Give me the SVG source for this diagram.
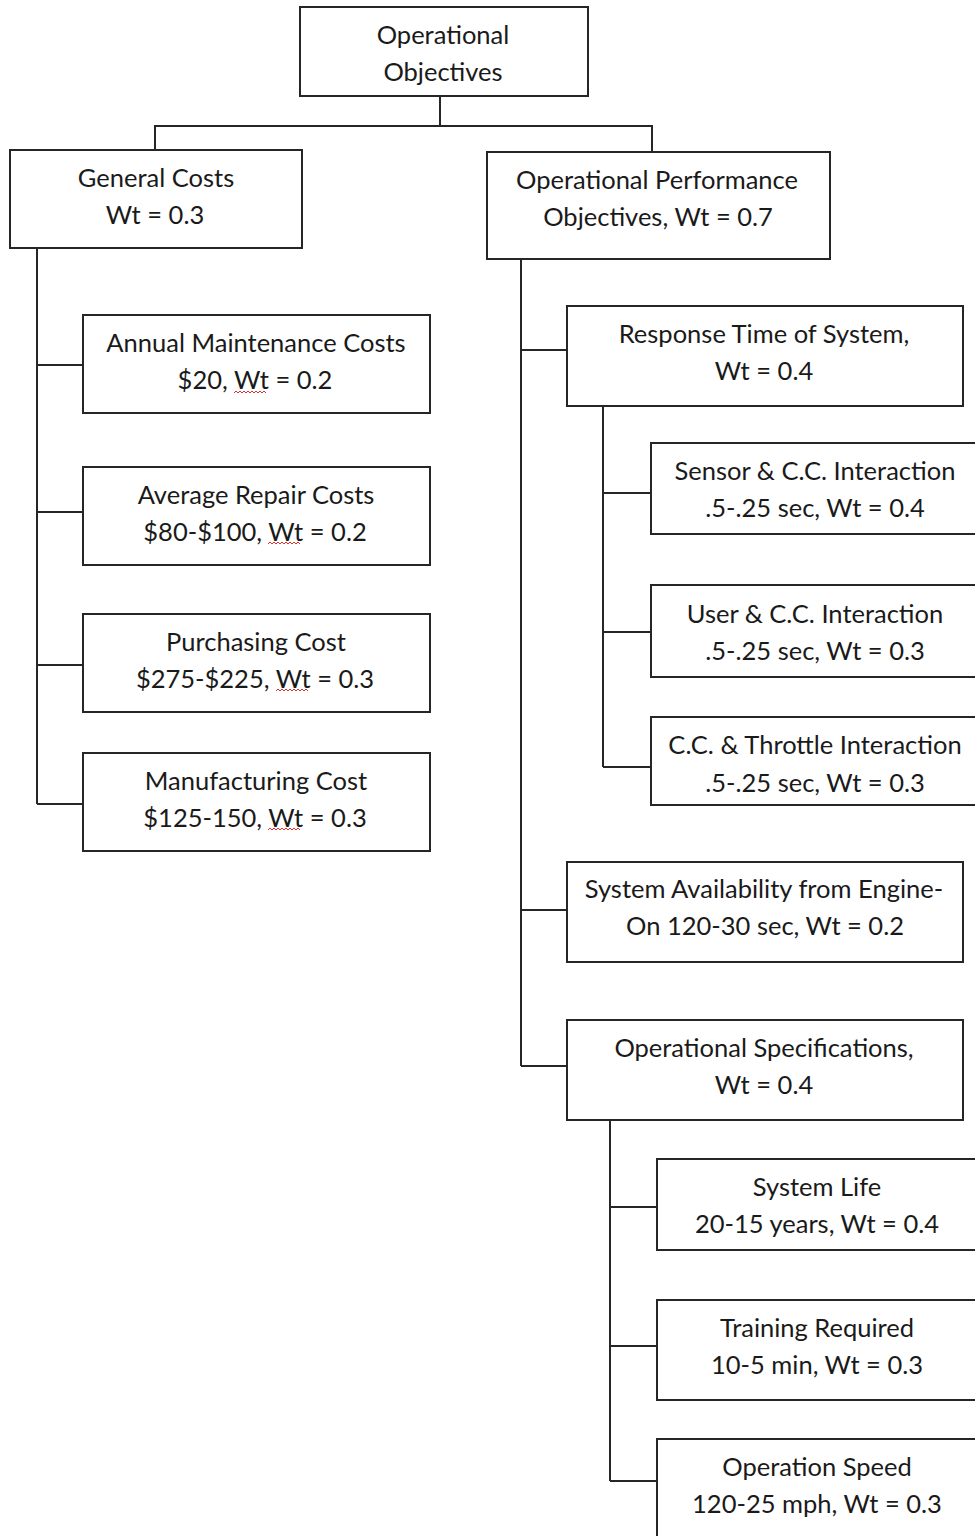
<svg xmlns="http://www.w3.org/2000/svg" width="975" height="1536" viewBox="0 0 975 1536">
  <style>
    .box { fill: #ffffff; stroke: #262626; stroke-width: 2; }
    .wire { fill: none; stroke: #262626; stroke-width: 2; }
    .lbl { font-family: Lato, "Open Sans", sans-serif; font-size: 25.5px; fill: #1a1a1a; text-anchor: middle; dominant-baseline: central; }
    .squig { fill: none; stroke: #e03030; stroke-width: 1; }
  </style>
  <rect width="975" height="1536" fill="#ffffff"/>

  <g id="connectors">
    <!-- root to first level -->
    <polyline class="wire" points="440,96 440,126"/>
    <polyline class="wire" points="155,150 155,126 652,126 652,152"/>
    <!-- general costs spine -->
    <polyline class="wire" points="37,248 37,804"/>
    <polyline class="wire" points="37,365 83,365"/>
    <polyline class="wire" points="37,512 83,512"/>
    <polyline class="wire" points="37,665 83,665"/>
    <polyline class="wire" points="37,804 83,804"/>
    <!-- performance spine -->
    <polyline class="wire" points="521,259 521,1066"/>
    <polyline class="wire" points="521,350 567,350"/>
    <polyline class="wire" points="521,910 567,910"/>
    <polyline class="wire" points="521,1066 567,1066"/>
    <!-- response time spine -->
    <polyline class="wire" points="603,406 603,767"/>
    <polyline class="wire" points="603,493 651,493"/>
    <polyline class="wire" points="603,632 651,632"/>
    <polyline class="wire" points="603,767 651,767"/>
    <!-- specifications spine -->
    <polyline class="wire" points="610,1120 610,1481"/>
    <polyline class="wire" points="610,1207 657,1207"/>
    <polyline class="wire" points="610,1346 657,1346"/>
    <polyline class="wire" points="610,1481 657,1481"/>
  </g>

  <g id="root">
    <rect class="box" x="300" y="7" width="288" height="89"/>
    <text class="lbl" x="443" y="34">Operational</text>
    <text class="lbl" x="443" y="71">Objectives</text>
  </g>

  <g id="general-costs">
    <rect class="box" x="10" y="150" width="292" height="98"/>
    <text class="lbl" x="156" y="177">General Costs</text>
    <text class="lbl" x="155" y="214">Wt = 0.3</text>
  </g>

  <g id="performance">
    <rect class="box" x="487" y="152" width="343" height="107"/>
    <text class="lbl" x="657" y="179">Operational Performance</text>
    <text class="lbl" x="658" y="216">Objectives, Wt = 0.7</text>
  </g>

  <g id="annual-maintenance">
    <rect class="box" x="83" y="315" width="347" height="98"/>
    <text class="lbl" x="256" y="342">Annual Maintenance Costs</text>
    <text class="lbl" x="255" y="379">$20, Wt = 0.2</text>
    <path class="squig" d="M234,393 l2,-2 l2,2 l2,-2 l2,2 l2,-2 l2,2 l2,-2 l2,2 l2,-2 l2,2 l2,-2 l2,2 l2,-2 l2,2 l2,-2 l2,2"/>
  </g>

  <g id="average-repair">
    <rect class="box" x="83" y="467" width="347" height="98"/>
    <text class="lbl" x="256" y="494">Average Repair Costs</text>
    <text class="lbl" x="255" y="531">$80-$100, Wt = 0.2</text>
    <path class="squig" d="M268,544 l2,-2 l2,2 l2,-2 l2,2 l2,-2 l2,2 l2,-2 l2,2 l2,-2 l2,2 l2,-2 l2,2 l2,-2 l2,2 l2,-2 l2,2"/>
  </g>

  <g id="purchasing">
    <rect class="box" x="83" y="614" width="347" height="98"/>
    <text class="lbl" x="256" y="641">Purchasing Cost</text>
    <text class="lbl" x="255" y="678">$275-$225, Wt = 0.3</text>
    <path class="squig" d="M276,691 l2,-2 l2,2 l2,-2 l2,2 l2,-2 l2,2 l2,-2 l2,2 l2,-2 l2,2 l2,-2 l2,2 l2,-2 l2,2 l2,-2 l2,2"/>
  </g>

  <g id="manufacturing">
    <rect class="box" x="83" y="753" width="347" height="98"/>
    <text class="lbl" x="256" y="780">Manufacturing Cost</text>
    <text class="lbl" x="255" y="817">$125-150, Wt = 0.3</text>
    <path class="squig" d="M268,830 l2,-2 l2,2 l2,-2 l2,2 l2,-2 l2,2 l2,-2 l2,2 l2,-2 l2,2 l2,-2 l2,2 l2,-2 l2,2 l2,-2 l2,2"/>
  </g>

  <g id="response-time">
    <rect class="box" x="567" y="306" width="396" height="100"/>
    <text class="lbl" x="764" y="333">Response Time of System,</text>
    <text class="lbl" x="764" y="370">Wt = 0.4</text>
  </g>

  <g id="sensor-interaction">
    <rect class="box" x="651" y="443" width="340" height="91"/>
    <text class="lbl" x="815" y="470">Sensor &amp; C.C. Interaction</text>
    <text class="lbl" x="815" y="507">.5-.25 sec, Wt = 0.4</text>
  </g>

  <g id="user-interaction">
    <rect class="box" x="651" y="585" width="340" height="92"/>
    <text class="lbl" x="815" y="613">User &amp; C.C. Interaction</text>
    <text class="lbl" x="815" y="650">.5-.25 sec, Wt = 0.3</text>
  </g>

  <g id="throttle-interaction">
    <rect class="box" x="651" y="717" width="340" height="88"/>
    <text class="lbl" x="815" y="744">C.C. &amp; Throttle Interaction</text>
    <text class="lbl" x="815" y="782">.5-.25 sec, Wt = 0.3</text>
  </g>

  <g id="system-availability">
    <rect class="box" x="567" y="862" width="396" height="100"/>
    <text class="lbl" x="764" y="888">System Availability from Engine-</text>
    <text class="lbl" x="765" y="925">On 120-30 sec, Wt = 0.2</text>
  </g>

  <g id="operational-specs">
    <rect class="box" x="567" y="1020" width="396" height="100"/>
    <text class="lbl" x="764" y="1047">Operational Specifications,</text>
    <text class="lbl" x="764" y="1084">Wt = 0.4</text>
  </g>

  <g id="system-life">
    <rect class="box" x="657" y="1159" width="334" height="91"/>
    <text class="lbl" x="817" y="1186">System Life</text>
    <text class="lbl" x="817" y="1223">20-15 years, Wt = 0.4</text>
  </g>

  <g id="training">
    <rect class="box" x="657" y="1300" width="334" height="100"/>
    <text class="lbl" x="817" y="1327">Training Required</text>
    <text class="lbl" x="817" y="1364">10-5 min, Wt = 0.3</text>
  </g>

  <g id="operation-speed">
    <rect class="box" x="657" y="1439" width="334" height="120"/>
    <text class="lbl" x="817" y="1466">Operation Speed</text>
    <text class="lbl" x="817" y="1503">120-25 mph, Wt = 0.3</text>
  </g>
</svg>
